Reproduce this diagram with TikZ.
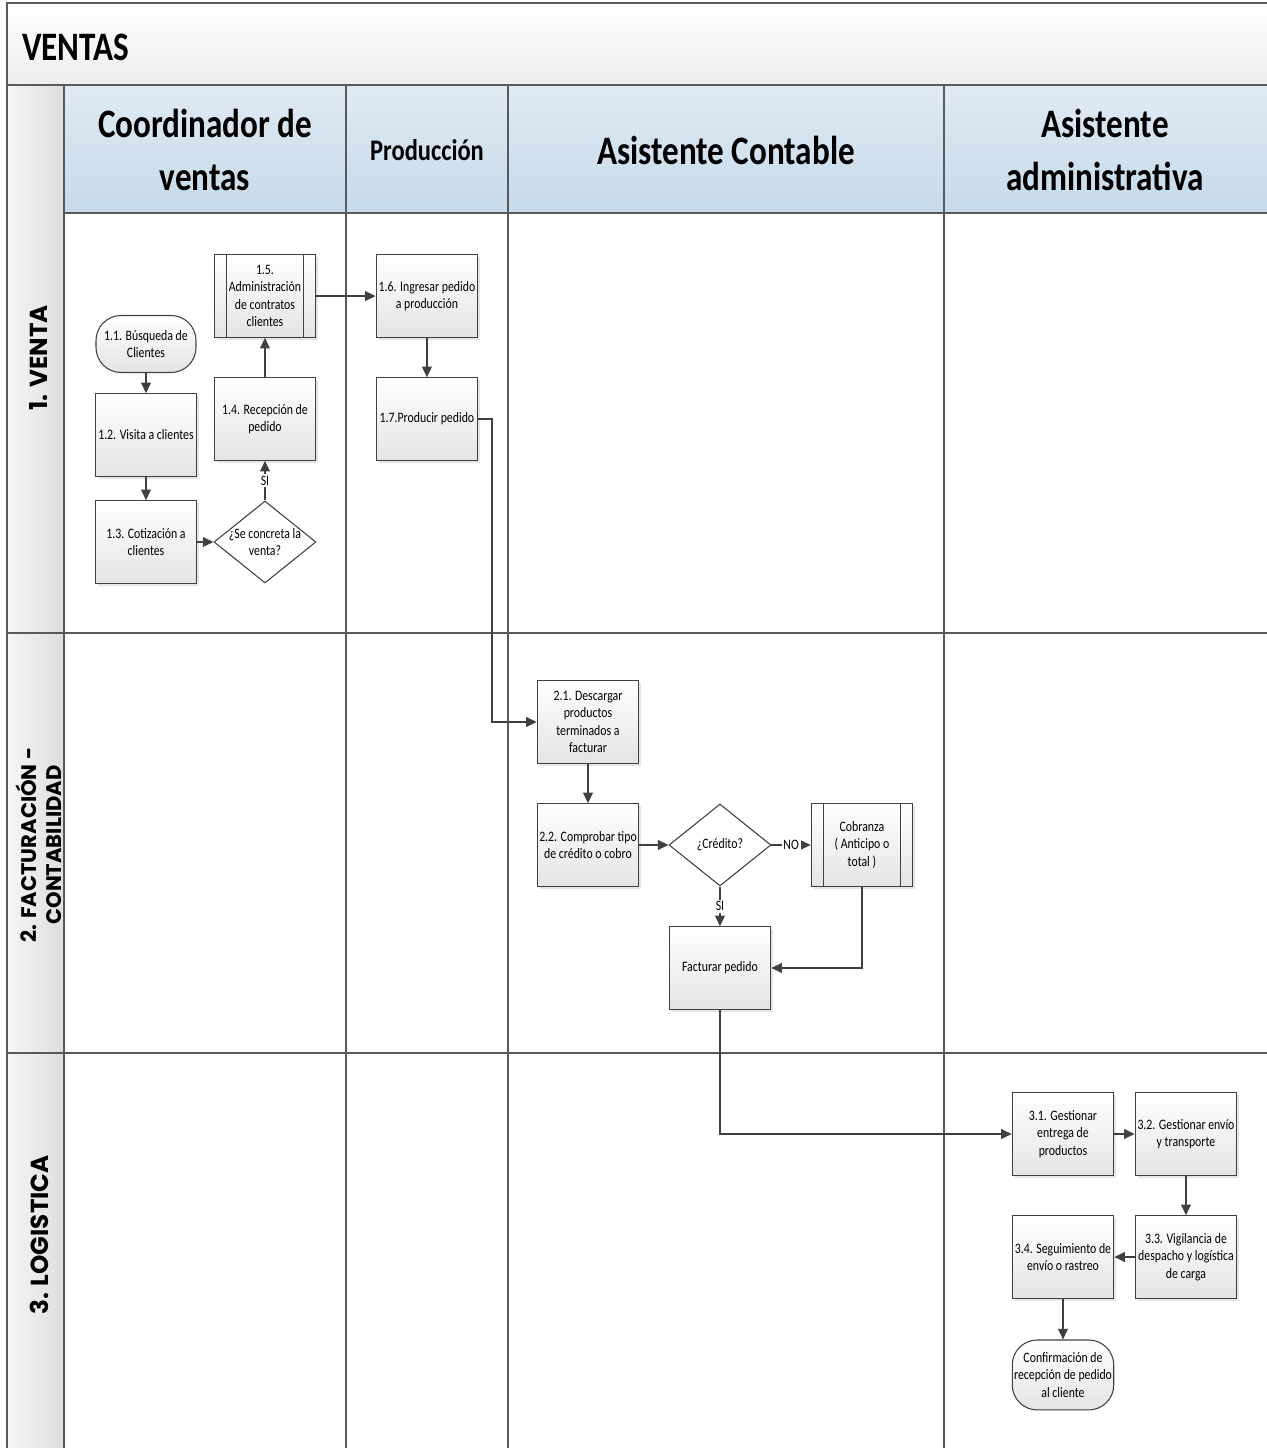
\documentclass[tikz,border=0pt]{standalone}
\usepackage{fontspec}
\setmainfont{Carlito}[FakeStretch=0.82]
\newfontfamily\lanefont{Poppins}
\usetikzlibrary{shapes.geometric,shadows,arrows.meta}

\definecolor{linegray}{HTML}{404040}
\definecolor{gridgray}{HTML}{5A5A5A}
\definecolor{boxgray}{HTML}{E4E4E4}
\definecolor{titlegray}{HTML}{EDEDED}
\definecolor{headtop}{HTML}{E0EAF3}
\definecolor{headbot}{HTML}{C6DAE9}
\definecolor{laneleft}{HTML}{F6F6F6}
\definecolor{laneright}{HTML}{DEDEDE}

\newcommand{\boxfont}{\fontsize{8.2}{10}\selectfont}
\newcommand{\headfont}{\fontsize{23}{30}\selectfont\bfseries}

\begin{document}
\begin{tikzpicture}[x=0.02cm, y=-0.02cm, node distance=2.46cm,
        proc/.style={rectangle, draw=linegray, line width=0.6pt, top color=white, bottom color=boxgray,
            drop shadow={shadow xshift=1.5pt, shadow yshift=-1.5pt, fill=black!20},
            minimum width=2.03cm, minimum height=1.65cm, align=center, inner sep=1pt, font=\boxfont},
        subproc/.style={proc, path picture={
            \draw[linegray, line width=0.6pt]
                ([xshift=0.25cm]path picture bounding box.north west) -- ([xshift=0.25cm]path picture bounding box.south west)
                ([xshift=-0.25cm]path picture bounding box.north east) -- ([xshift=-0.25cm]path picture bounding box.south east);}},
        term/.style={rectangle, rounded corners=0.5cm, draw=linegray, line width=0.6pt, top color=white, bottom color=boxgray,
            minimum width=2.0cm, minimum height=1.14cm, align=center, inner sep=1pt, font=\boxfont},
        decision/.style={diamond, draw=linegray, line width=0.6pt, fill=white, inner sep=0pt,
            minimum width=2.04cm, minimum height=1.64cm},
        flow/.style={draw=linegray, line width=0.85pt, -{Triangle[length=6pt, width=5.5pt]}},
        tag/.style={fill=white, inner sep=1pt, font=\boxfont},
        grid/.style={draw=gridgray, line width=0.7pt},
        lanelabel/.style={rotate=90, align=center, font=\lanefont\fontsize{14}{16}\selectfont\bfseries},
        headtext/.style={align=center, font=\headfont}]

    \useasboundingbox (0,0) rectangle (1267,1448);

    % Backgrounds of title, header row and lane column
    \shade[top color=white, bottom color=titlegray] (7,3) rectangle (1267,85);
    \shade[top color=headtop, bottom color=headbot] (64,85) rectangle (1267,213);
    \shade[left color=laneleft, right color=laneright] (7,85) rectangle (64,1448);

    % Grid
    \draw[grid] (7,1448) -- (7,3) -- (1267,3);
    \draw[grid] (7,85) -- (1267,85);
    \draw[grid] (64,213) -- (1267,213);
    \draw[grid] (7,633) -- (1267,633);
    \draw[grid] (7,1053) -- (1267,1053);
    \foreach \x in {64,346,508,944}
        \draw[grid] (\x,85) -- (\x,1448);

    % Title and headers
    \node[anchor=west, font=\fontsize{23}{28}\selectfont\bfseries] (title) at (16,47) {VENTAS};
    \node[headtext] (hcoord) at (205,150) {Coordinador de\\ventas};
    \node[headtext, font=\fontsize{17}{20}\selectfont\bfseries] (hprod) at (427,150) {Producción};
    \node[headtext] (hcont) at (726,150) {Asistente Contable};
    \node[headtext] (hadmin) at (1105,150) {Asistente\\administrativa};

    % Lane labels
    \node[lanelabel] (lventa) at (39,358) {1. VENTA};
    \node[lanelabel, font=\lanefont\fontsize{12}{14.5}\selectfont\bfseries] (lfact) at (39,845) {2. FACTURACIÓN -\\CONTABILIDAD};
    \node[lanelabel] (llog) at (39,1235) {3. LOGISTICA};

    % 1. Venta
    \node[term] (p11) at (146,344) {1.1. Búsqueda de\\Clientes};
    \node[proc] (p12) at (146,435) {1.2. Visita a clientes};
    \node[proc] (p13) at (146,542) {1.3. Cotización a\\clientes};
    \node[decision, right of=p13, xshift=-0.08cm,
        label={[font=\boxfont, align=center]center:{¿Se concreta la\\venta?}}] (d1) {};
    \node[proc, above of=d1] (p14) {1.4. Recepción de\\pedido};
    \node[subproc, above of=p14] (p15) {1.5.\\Administración\\de contratos\\clientes};
    \node[proc, right of=p15, xshift=0.78cm] (p16) {1.6. Ingresar pedido\\a producción};
    \node[proc, below of=p16] (p17) {1.7.Producir pedido};

    % 2. Facturacion
    \node[proc] (p21) at (588,722) {2.1. Descargar\\productos\\terminados a\\facturar};
    \node[proc, below of=p21] (p22) {2.2. Comprobar tipo\\de crédito o cobro};
    \node[decision, right of=p22, xshift=0.18cm,
        label={[font=\boxfont]center:¿Crédito?}] (d2) {};
    \node[subproc, right of=d2, xshift=0.38cm] (cob) {Cobranza\\( Anticipo o\\total )};
    \node[proc, below of=d2] (fact) {Facturar pedido};

    % 3. Logistica
    \node[proc] (p31) at (1063,1134) {3.1. Gestionar\\entrega de\\productos};
    \node[proc, right of=p31] (p32) {3.2. Gestionar envío\\y transporte};
    \node[proc, below of=p32] (p33) {3.3. Vigilancia de\\despacho y logística\\de carga};
    \node[proc, below of=p31] (p34) {3.4. Seguimiento de\\envío o rastreo};
    \node[term, below of=p34, yshift=0.1cm, minimum width=1.96cm, minimum height=1.4cm] (conf) {Confirmación de\\recepción de pedido\\al cliente};

    % Connectors
    \draw[flow] (p11) -- (p12);
    \draw[flow] (p12) -- (p13);
    \draw[flow] (p13) -- (d1);
    \draw[flow] (d1) -- node[tag] {SI} (p14);
    \draw[flow] (p14) -- (p15);
    \draw[flow] (p15) -- (p16);
    \draw[flow] (p16) -- (p17);
    \draw[flow] (p17.east) -- ++(14,0) |- (p21);
    \draw[flow] (p21) -- (p22);
    \draw[flow] (p22) -- (d2);
    \draw[flow] (d2) -- node[tag] {NO} (cob);
    \draw[flow] (d2) -- node[tag] {SI} (fact);
    \draw[flow] (cob) |- (fact);
    \draw[flow] (fact) |- (p31);
    \draw[flow] (p31) -- (p32);
    \draw[flow] (p32) -- (p33);
    \draw[flow] (p33) -- (p34);
    \draw[flow] (p34) -- (conf);

\end{tikzpicture}
\end{document}
